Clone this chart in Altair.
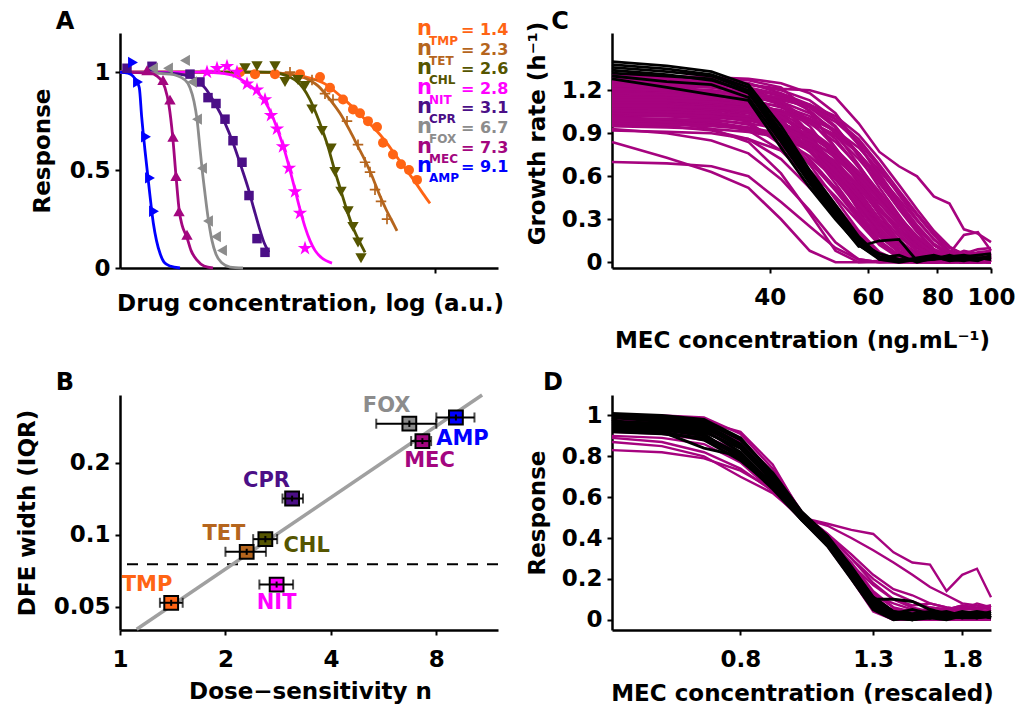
import altair as alt
import pandas as pd

FONT = "DejaVu Sans"

# ---------------- shared drug info ----------------
drugs = ["TMP", "TET", "CHL", "NIT", "CPR", "FOX", "MEC", "AMP"]
n_values = [1.4, 2.3, 2.6, 2.8, 3.1, 6.7, 7.3, 9.1]
drug_colors = ["#FF6414", "#B5651D", "#555500", "#FF00FF", "#4B0F87", "#8C8C8C", "#A3067F", "#0000FF"]

STAR = "M0,-1L0.2245,-0.309L0.951,-0.309L0.363,0.118L0.588,0.809L0,0.382L-0.588,0.809L-0.363,0.118L-0.951,-0.309L-0.2245,-0.309Z"
PLUS = "M-1,-0.16H1V0.16H-1Z M-0.16,-1H0.16V1H-0.16Z"
marker_shapes = ["circle", PLUS, "triangle-down", STAR, "square", "triangle-left", "triangle-up", "triangle-right"]
marker_sizes = [100, 110, 130, 230, 90, 130, 130, 130]

# ---------------- panel A: dose-response (x in arbitrary log units) ----------------
marker_x = {
    "TMP": [12.0, 13.5, 15.5, 18.0, 20.0, 21.0, 22.3, 23.3, 24.0, 24.8, 25.7, 26.3, 27.3, 28.1, 28.9, 29.7],
    "TET": [17.0, 19.2, 20.5, 21.3, 22.7, 23.8, 24.5, 25.0, 25.5, 26.1, 26.7],
    "CHL": [12.5, 13.7, 15.5, 16.5, 17.8, 18.5, 19.2, 20.2, 21.1, 21.5, 22.1, 22.8, 23.3, 23.8, 24.1],
    "NIT": [8.7, 9.7, 10.7, 11.7, 12.7, 13.7, 14.5, 15.1, 15.7, 16.3, 16.9, 17.5, 18.0, 18.5],
    "CPR": [0.7, 3.2, 7.0, 8.0, 8.8, 9.6, 10.5, 11.3, 12.2, 12.9, 13.7, 14.5],
    "FOX": [3.3, 4.8, 6.5, 7.2, 7.7, 8.2, 8.8, 9.6, 10.2],
    "MEC": [2.7, 4.3, 5.0, 5.3, 5.6, 5.9, 6.7],
    "AMP": [1.3, 1.8, 2.6, 3.0, 3.4],
}
marker_y = {
    "TMP": [1.0, 0.99, 0.99, 0.99, 0.975, 0.92, 0.86, 0.81, 0.79, 0.75, 0.72, 0.64, 0.58, 0.53, 0.50, 0.45],
    "TET": [1.0, 0.96, 0.89, 0.86, 0.75, 0.63, 0.54, 0.49, 0.40, 0.34, 0.25],
    "CHL": [1.02, 1.03, 1.03, 0.95, 0.96, 0.93, 0.81, 0.70, 0.61, 0.49, 0.39, 0.29, 0.21, 0.13, 0.05],
    "NIT": [1.0, 1.02, 1.03, 1.0, 0.94, 0.91, 0.86, 0.78, 0.71, 0.62, 0.51, 0.39, 0.28, 0.10],
    "CPR": [1.02, 1.03, 0.99, 0.95, 0.87, 0.84, 0.76, 0.65, 0.54, 0.37, 0.15, 0.08],
    "FOX": [1.02, 1.02, 1.06, 0.95, 0.76, 0.51, 0.24, 0.16, 0.09],
    "MEC": [1.01, 0.96, 0.86, 0.67, 0.47, 0.29, 0.17],
    "AMP": [1.05, 0.95, 0.67, 0.46, 0.29],
}
curve_x = {
    "TMP": [0, 13.0, 17.0, 19.0, 20.5, 22.0, 23.5, 24.5, 25.5, 26.5, 27.5, 28.5, 29.5, 30.3, 31.0],
    "TET": [0, 14.0, 17.0, 18.5, 19.8, 21.0, 22.0, 23.0, 23.8, 24.5, 25.2, 25.9, 26.6, 27.2, 27.7],
    "CHL": [0, 15.0, 16.5, 17.5, 18.3, 19.0, 19.6, 20.2, 20.8, 21.4, 22.0, 22.6, 23.2, 23.8, 24.5],
    "NIT": [0, 8.0, 10.0, 11.5, 12.5, 13.5, 14.5, 15.2, 15.8, 16.4, 17.0, 17.5, 18.0, 18.5, 19.0, 19.5, 20.1, 21.2],
    "CPR": [0, 5.0, 6.5, 7.5, 8.5, 9.5, 10.5, 11.3, 12.1, 12.8, 13.4, 13.9, 14.4, 14.9],
    "FOX": [0, 5.0, 6.5, 7.0, 7.4, 7.7, 8.0, 8.2, 8.5, 8.8, 9.2, 9.6, 10.2, 11.0, 12.3],
    "MEC": [0, 3.0, 3.7, 4.1, 4.5, 4.9, 5.27, 5.6, 5.93, 6.2, 6.67, 7.1, 7.7, 8.4, 9.3],
    "AMP": [0, 0.8, 1.3, 1.7, 1.93, 2.17, 2.5, 2.93, 3.33, 3.65, 4.0, 4.4, 5.0, 6.0],
}
curve_y = {
    "TMP": [1.0, 1.0, 0.99, 0.97, 0.94, 0.88, 0.81, 0.76, 0.71, 0.65, 0.58, 0.51, 0.44, 0.38, 0.33],
    "TET": [1.0, 1.0, 0.99, 0.97, 0.93, 0.86, 0.79, 0.70, 0.62, 0.55, 0.47, 0.38, 0.30, 0.24, 0.19],
    "CHL": [1.0, 1.0, 0.985, 0.96, 0.92, 0.86, 0.79, 0.71, 0.62, 0.51, 0.41, 0.31, 0.22, 0.15, 0.08],
    "NIT": [1.0, 1.0, 0.995, 0.98, 0.95, 0.91, 0.85, 0.78, 0.70, 0.61, 0.50, 0.40, 0.30, 0.21, 0.14, 0.09, 0.055, 0.025],
    "CPR": [1.0, 0.995, 0.985, 0.965, 0.92, 0.84, 0.74, 0.64, 0.52, 0.41, 0.30, 0.21, 0.13, 0.08],
    "FOX": [1.0, 0.99, 0.96, 0.92, 0.85, 0.76, 0.61, 0.51, 0.38, 0.26, 0.14, 0.07, 0.025, 0.005, 0.0],
    "MEC": [1.0, 0.995, 0.98, 0.96, 0.92, 0.83, 0.67, 0.47, 0.29, 0.22, 0.16, 0.09, 0.04, 0.01, 0.0],
    "AMP": [1.0, 0.995, 0.98, 0.95, 0.92, 0.77, 0.60, 0.40, 0.23, 0.14, 0.075, 0.03, 0.01, 0.0],
}

# ---------------- panel B: DFE width vs dose sensitivity ----------------
b_iqr = [0.052, 0.085, 0.096, 0.062, 0.142, 0.292, 0.247, 0.31]
b_n_lo = [1.3, 2.0, 2.4, 2.5, 2.91, 5.39, 6.78, 8.0]
b_n_hi = [1.51, 2.61, 2.81, 3.12, 3.33, 8.0, 7.73, 10.28]
b_iqr_lo = [0.0505, 0.0825, 0.093, 0.0602, 0.138, 0.283, 0.240, 0.301]
b_iqr_hi = [0.0535, 0.0875, 0.099, 0.0638, 0.146, 0.301, 0.254, 0.319]
fit_n = [1.116, 10.81]
fit_iqr = [0.0403, 0.385]
threshold_iqr = [0.0754]

# ---------------- panel C: growth rate vs MEC concentration ----------------
c_conc = [20.8, 26.1, 31.4, 36.6, 41.9, 47.2, 52.5, 57.8, 63.0, 68.3, 73.6, 78.9, 84.2, 89.4, 94.7, 100.0]
c_black = [
    [1.40, 1.37, 1.33, 1.24, 0.95, 0.64, 0.40, 0.18, 0.04, 0.02, 0.01, 0.03, 0.02, 0.03, 0.02, 0.03],
    [1.36, 1.33, 1.30, 1.20, 0.90, 0.60, 0.36, 0.15, 0.02, 0.00, 0.02, 0.04, 0.01, 0.02, 0.03, 0.04],
    [1.32, 1.30, 1.28, 1.18, 0.88, 0.58, 0.33, 0.12, 0.02, 0.01, 0.02, 0.02, 0.05, 0.02, 0.01, 0.05],
    [1.30, 1.26, 1.24, 1.15, 0.84, 0.55, 0.31, 0.11, 0.15, 0.16, 0.01, 0.03, 0.04, 0.05, 0.03, 0.02],
    [1.28, 1.22, 1.17, 1.13, 0.80, 0.52, 0.30, 0.12, 0.03, 0.05, 0.00, 0.03, 0.02, 0.04, 0.05, 0.06],
    [1.38, 1.35, 1.31, 1.22, 0.92, 0.62, 0.38, 0.17, 0.03, 0.01, 0.03, 0.05, 0.02, 0.01, 0.03, 0.02],
    [1.34, 1.31, 1.27, 1.19, 0.86, 0.57, 0.35, 0.14, 0.06, 0.02, 0.01, 0.02, 0.03, 0.04, 0.02, 0.03],
]
c_magenta = [
    [1.22, 1.22, 1.23, 1.24, 1.21, 1.20, 1.15, 0.97, 0.77, 0.67, 0.60, 0.46, 0.41, 0.23, 0.20, 0.14],
    [0.70, 0.69, 0.67, 0.60, 0.42, 0.25, 0.10, 0.02, 0.00, 0.00, 0.01, 0.00, 0.00, 0.00, 0.01, 0.00],
    [0.84, 0.73, 0.63, 0.52, 0.30, 0.08, 0.00, 0.00, 0.01, 0.00, 0.00, 0.00, 0.01, 0.00, 0.00, 0.00],
    [1.30, 1.29, 1.28, 1.27, 1.22, 1.05, 0.80, 0.55, 0.33, 0.15, 0.04, 0.01, 0.00, 0.02, 0.01, 0.03],
    [1.28, 1.27, 1.27, 1.25, 1.18, 1.10, 0.95, 0.74, 0.52, 0.33, 0.16, 0.05, 0.03, 0.02, 0.04, 0.05],
    [1.25, 1.24, 1.22, 1.18, 1.00, 0.78, 0.55, 0.33, 0.14, 0.04, 0.01, 0.00, 0.02, 0.01, 0.00, 0.02],
    [1.22, 1.21, 1.20, 1.17, 1.10, 0.95, 0.72, 0.50, 0.30, 0.14, 0.05, 0.02, 0.01, 0.03, 0.02, 0.04],
    [1.20, 1.19, 1.17, 1.12, 0.92, 0.68, 0.44, 0.22, 0.07, 0.01, 0.00, 0.02, 0.01, 0.00, 0.01, 0.03],
    [1.18, 1.18, 1.16, 1.14, 1.08, 1.00, 0.86, 0.66, 0.45, 0.28, 0.14, 0.06, 0.04, 0.08, 0.06, 0.05],
    [1.16, 1.15, 1.13, 1.08, 0.96, 0.78, 0.58, 0.38, 0.20, 0.07, 0.02, 0.01, 0.00, 0.02, 0.01, 0.02],
    [1.15, 1.14, 1.12, 1.10, 1.04, 0.92, 0.75, 0.56, 0.38, 0.22, 0.10, 0.03, 0.05, 0.04, 0.03, 0.05],
    [1.13, 1.12, 1.10, 1.05, 0.88, 0.64, 0.40, 0.20, 0.06, 0.01, 0.00, 0.00, 0.01, 0.00, 0.02, 0.01],
    [1.12, 1.12, 1.11, 1.09, 1.06, 0.98, 0.88, 0.72, 0.55, 0.38, 0.24, 0.12, 0.06, 0.04, 0.07, 0.08],
    [1.10, 1.09, 1.07, 1.02, 0.90, 0.72, 0.52, 0.32, 0.15, 0.05, 0.01, 0.02, 0.00, 0.01, 0.00, 0.01],
    [1.08, 1.08, 1.06, 1.04, 0.98, 0.86, 0.68, 0.48, 0.30, 0.15, 0.06, 0.02, 0.04, 0.03, 0.02, 0.04],
    [1.06, 1.05, 1.03, 0.98, 0.82, 0.60, 0.38, 0.18, 0.05, 0.00, 0.01, 0.00, 0.00, 0.01, 0.00, 0.00],
    [1.05, 1.04, 1.03, 1.01, 0.96, 0.88, 0.76, 0.60, 0.44, 0.29, 0.17, 0.08, 0.05, 0.04, 0.06, 0.05],
    [1.03, 1.02, 1.00, 0.96, 0.86, 0.70, 0.50, 0.30, 0.14, 0.04, 0.01, 0.00, 0.01, 0.00, 0.01, 0.02],
    [1.02, 1.02, 1.01, 0.99, 0.94, 0.84, 0.70, 0.52, 0.34, 0.18, 0.08, 0.03, 0.02, 0.05, 0.03, 0.02],
    [1.00, 0.99, 0.97, 0.92, 0.78, 0.58, 0.36, 0.17, 0.04, 0.00, 0.00, 0.01, 0.00, 0.00, 0.01, 0.00],
    [0.98, 0.97, 0.96, 0.94, 0.90, 0.82, 0.70, 0.54, 0.38, 0.24, 0.12, 0.05, 0.03, 0.02, 0.04, 0.06],
    [0.96, 0.95, 0.92, 0.86, 0.72, 0.52, 0.32, 0.14, 0.03, 0.00, 0.00, 0.00, 0.01, 0.00, 0.00, 0.01],
    [0.95, 0.94, 0.93, 0.91, 0.87, 0.78, 0.64, 0.46, 0.28, 0.13, 0.04, 0.02, 0.01, 0.02, 0.01, 0.03],
    [1.27, 1.26, 1.25, 1.22, 1.12, 0.90, 0.62, 0.36, 0.15, 0.03, 0.00, 0.01, 0.00, 0.02, 0.01, 0.00],
    [1.24, 1.23, 1.23, 1.21, 1.16, 1.06, 0.90, 0.68, 0.47, 0.28, 0.12, 0.04, 0.06, 0.19, 0.21, 0.08],
    [1.19, 1.18, 1.17, 1.15, 1.12, 1.04, 0.92, 0.76, 0.58, 0.40, 0.25, 0.12, 0.05, 0.03, 0.05, 0.07],
    [1.14, 1.13, 1.11, 1.07, 0.98, 0.83, 0.64, 0.44, 0.26, 0.12, 0.04, 0.01, 0.00, 0.01, 0.02, 0.01],
    [1.09, 1.08, 1.07, 1.05, 1.00, 0.91, 0.78, 0.62, 0.46, 0.31, 0.18, 0.09, 0.04, 0.03, 0.02, 0.04],
    [1.31, 1.30, 1.29, 1.28, 1.25, 1.18, 1.04, 0.82, 0.60, 0.40, 0.22, 0.09, 0.03, 0.02, 0.03, 0.02],
    [0.92, 0.91, 0.90, 0.86, 0.78, 0.64, 0.46, 0.28, 0.12, 0.03, 0.00, 0.00, 0.01, 0.00, 0.00, 0.00],
    [1.21, 1.20, 1.18, 1.14, 1.03, 0.84, 0.60, 0.38, 0.19, 0.07, 0.02, 0.00, 0.01, 0.00, 0.01, 0.02],
    [1.17, 1.16, 1.16, 1.15, 1.13, 1.09, 1.00, 0.86, 0.68, 0.50, 0.34, 0.20, 0.10, 0.06, 0.09, 0.10],
    [1.07, 1.06, 1.04, 1.00, 0.92, 0.77, 0.58, 0.40, 0.22, 0.10, 0.03, 0.01, 0.02, 0.00, 0.01, 0.00],
    [1.11, 1.10, 1.09, 1.08, 1.05, 1.00, 0.92, 0.80, 0.64, 0.48, 0.33, 0.19, 0.08, 0.05, 0.04, 0.06],
    [0.99, 0.98, 0.96, 0.93, 0.86, 0.74, 0.58, 0.42, 0.26, 0.14, 0.06, 0.02, 0.01, 0.00, 0.01, 0.01],
    [1.02, 0.98, 0.93, 0.84, 0.62, 0.34, 0.08, 0.00, 0.00, 0.01, 0.00, 0.00, 0.00, 0.00, 0.00, 0.00],
    [0.93, 0.90, 0.85, 0.76, 0.58, 0.36, 0.14, 0.02, 0.00, 0.00, 0.01, 0.00, 0.00, 0.00, 0.00, 0.01],
    [1.29, 1.28, 1.26, 1.22, 1.10, 0.88, 0.64, 0.42, 0.22, 0.08, 0.02, 0.00, 0.01, 0.00, 0.02, 0.01],
    [1.26, 1.25, 1.24, 1.22, 1.17, 1.08, 0.94, 0.76, 0.56, 0.37, 0.21, 0.09, 0.04, 0.03, 0.02, 0.03],
    [1.23, 1.22, 1.20, 1.15, 1.04, 0.86, 0.66, 0.46, 0.28, 0.13, 0.04, 0.01, 0.00, 0.01, 0.00, 0.02],
    [1.20, 1.20, 1.19, 1.17, 1.14, 1.08, 0.98, 0.84, 0.66, 0.47, 0.30, 0.16, 0.07, 0.05, 0.06, 0.04],
    [1.17, 1.16, 1.14, 1.09, 0.99, 0.82, 0.62, 0.42, 0.24, 0.10, 0.03, 0.00, 0.01, 0.00, 0.01, 0.00],
    [1.15, 1.15, 1.14, 1.12, 1.09, 1.02, 0.91, 0.76, 0.58, 0.40, 0.25, 0.12, 0.05, 0.04, 0.03, 0.05],
    [1.12, 1.11, 1.09, 1.04, 0.94, 0.79, 0.60, 0.41, 0.23, 0.10, 0.03, 0.01, 0.00, 0.02, 0.01, 0.00],
    [1.10, 1.10, 1.08, 1.06, 1.01, 0.92, 0.79, 0.63, 0.46, 0.30, 0.16, 0.07, 0.03, 0.04, 0.03, 0.02],
    [1.07, 1.07, 1.05, 1.01, 0.94, 0.81, 0.64, 0.46, 0.29, 0.15, 0.06, 0.02, 0.01, 0.00, 0.01, 0.02],
    [1.04, 1.03, 1.02, 1.00, 0.95, 0.86, 0.73, 0.57, 0.41, 0.26, 0.14, 0.06, 0.03, 0.02, 0.04, 0.03],
    [1.01, 1.00, 0.98, 0.94, 0.85, 0.70, 0.52, 0.34, 0.18, 0.07, 0.01, 0.00, 0.01, 0.00, 0.00, 0.01],
    [0.97, 0.96, 0.95, 0.93, 0.88, 0.80, 0.68, 0.52, 0.36, 0.22, 0.11, 0.04, 0.02, 0.03, 0.02, 0.04],
    [1.24, 1.24, 1.22, 1.19, 1.12, 0.99, 0.80, 0.59, 0.38, 0.20, 0.08, 0.02, 0.01, 0.00, 0.01, 0.02],
    [1.18, 1.17, 1.15, 1.11, 1.02, 0.87, 0.68, 0.48, 0.30, 0.15, 0.05, 0.01, 0.02, 0.01, 0.00, 0.01],
    [1.13, 1.13, 1.12, 1.10, 1.06, 0.97, 0.84, 0.67, 0.49, 0.32, 0.18, 0.08, 0.03, 0.02, 0.03, 0.04],
    [1.06, 1.05, 1.04, 1.02, 0.97, 0.89, 0.77, 0.62, 0.46, 0.31, 0.18, 0.09, 0.05, 0.06, 0.04, 0.03],
    [1.00, 1.00, 0.99, 0.97, 0.93, 0.85, 0.74, 0.59, 0.43, 0.28, 0.15, 0.06, 0.02, 0.01, 0.02, 0.03],
    [1.27, 1.27, 1.26, 1.24, 1.20, 1.13, 1.00, 0.82, 0.62, 0.42, 0.26, 0.13, 0.06, 0.03, 0.05, 0.04],
    [1.21, 1.20, 1.19, 1.18, 1.15, 1.10, 1.02, 0.89, 0.72, 0.54, 0.37, 0.22, 0.11, 0.05, 0.04, 0.06],
    [1.09, 1.09, 1.08, 1.07, 1.04, 0.98, 0.89, 0.76, 0.60, 0.44, 0.29, 0.16, 0.07, 0.04, 0.05, 0.07],
]

# ---------------- panel D: normalised response vs rescaled concentration ----------------
d_conc = [0.5, 0.6, 0.7, 0.8, 0.9, 1.0, 1.1, 1.2, 1.3, 1.4, 1.5, 1.6, 1.7, 1.8, 1.9, 2.0]
d_black = [
    [0.99, 0.98, 0.96, 0.86, 0.70, 0.52, 0.40, 0.25, 0.10, 0.03, 0.01, 0.02, 0.03, 0.02, 0.01, 0.02],
    [0.97, 0.96, 0.93, 0.82, 0.66, 0.50, 0.37, 0.22, 0.07, 0.01, 0.00, 0.02, 0.01, 0.03, 0.02, 0.02],
    [0.95, 0.94, 0.91, 0.79, 0.64, 0.49, 0.36, 0.20, 0.05, 0.00, 0.01, 0.01, 0.02, 0.01, 0.03, 0.01],
    [0.93, 0.92, 0.88, 0.78, 0.65, 0.50, 0.38, 0.24, 0.10, 0.10, 0.09, 0.05, 0.03, 0.02, 0.02, 0.01],
    [0.98, 0.92, 0.84, 0.80, 0.67, 0.51, 0.39, 0.23, 0.08, 0.02, 0.02, 0.03, 0.02, 0.04, 0.03, 0.02],
    [1.00, 0.99, 0.97, 0.88, 0.72, 0.53, 0.41, 0.26, 0.11, 0.04, 0.02, 0.01, 0.02, 0.01, 0.02, 0.03],
    [0.96, 0.95, 0.92, 0.84, 0.68, 0.50, 0.38, 0.23, 0.09, 0.02, 0.00, 0.01, 0.00, 0.02, 0.01, 0.03],
    [1.01, 1.00, 0.98, 0.89, 0.71, 0.52, 0.40, 0.24, 0.09, 0.02, 0.01, 0.01, 0.02, 0.01, 0.01, 0.02],
    [0.99, 0.97, 0.95, 0.85, 0.69, 0.51, 0.39, 0.24, 0.08, 0.01, 0.00, 0.02, 0.01, 0.02, 0.03, 0.01],
    [0.94, 0.93, 0.90, 0.81, 0.66, 0.49, 0.37, 0.21, 0.06, 0.01, 0.02, 0.01, 0.03, 0.02, 0.02, 0.04],
    [0.97, 0.96, 0.94, 0.85, 0.69, 0.51, 0.40, 0.25, 0.11, 0.04, 0.03, 0.04, 0.02, 0.03, 0.04, 0.03],
    [0.92, 0.91, 0.89, 0.80, 0.65, 0.50, 0.38, 0.23, 0.08, 0.03, 0.05, 0.03, 0.04, 0.02, 0.01, 0.02],
]
d_magenta = [
    [0.98, 0.97, 0.95, 0.88, 0.72, 0.50, 0.47, 0.44, 0.42, 0.33, 0.28, 0.27, 0.14, 0.22, 0.25, 0.11],
    [0.97, 0.96, 0.94, 0.86, 0.70, 0.50, 0.46, 0.40, 0.34, 0.28, 0.22, 0.16, 0.12, 0.08, 0.07, 0.06],
    [0.83, 0.82, 0.79, 0.73, 0.64, 0.52, 0.42, 0.30, 0.18, 0.10, 0.06, 0.04, 0.05, 0.04, 0.03, 0.05],
    [0.87, 0.85, 0.80, 0.70, 0.62, 0.50, 0.40, 0.28, 0.14, 0.06, 0.02, 0.01, 0.02, 0.01, 0.02, 0.01],
    [0.89, 0.87, 0.82, 0.74, 0.63, 0.51, 0.39, 0.26, 0.12, 0.04, 0.01, 0.00, 0.01, 0.00, 0.01, 0.02],
    [0.90, 0.89, 0.86, 0.77, 0.63, 0.49, 0.36, 0.20, 0.04, 0.00, 0.00, 0.01, 0.00, 0.01, 0.00, 0.00],
    [1.00, 1.00, 0.99, 0.91, 0.74, 0.53, 0.40, 0.24, 0.08, 0.01, 0.00, 0.00, 0.01, 0.00, 0.00, 0.01],
    [0.99, 0.99, 0.97, 0.92, 0.76, 0.52, 0.38, 0.20, 0.05, 0.00, 0.00, 0.01, 0.00, 0.00, 0.01, 0.00],
    [0.96, 0.95, 0.93, 0.85, 0.68, 0.50, 0.41, 0.30, 0.20, 0.13, 0.09, 0.06, 0.05, 0.07, 0.06, 0.07],
    [0.94, 0.93, 0.90, 0.82, 0.66, 0.49, 0.37, 0.27, 0.17, 0.10, 0.07, 0.08, 0.06, 0.05, 0.08, 0.06],
    [0.98, 0.97, 0.95, 0.87, 0.70, 0.51, 0.39, 0.23, 0.07, 0.02, 0.04, 0.03, 0.05, 0.03, 0.04, 0.05],
    [0.92, 0.91, 0.88, 0.80, 0.66, 0.50, 0.38, 0.25, 0.12, 0.08, 0.05, 0.04, 0.04, 0.06, 0.05, 0.04],
    [1.00, 0.99, 0.96, 0.89, 0.72, 0.50, 0.37, 0.21, 0.06, 0.00, 0.01, 0.00, 0.00, 0.01, 0.00, 0.00],
    [0.95, 0.94, 0.92, 0.84, 0.69, 0.52, 0.42, 0.32, 0.22, 0.15, 0.12, 0.08, 0.06, 0.05, 0.05, 0.06],
    [0.97, 0.97, 0.95, 0.86, 0.70, 0.50, 0.38, 0.22, 0.08, 0.05, 0.03, 0.06, 0.05, 0.07, 0.05, 0.07],
    [0.93, 0.92, 0.89, 0.81, 0.67, 0.50, 0.39, 0.26, 0.13, 0.06, 0.04, 0.02, 0.03, 0.01, 0.02, 0.03],
]

MAG = "#A6037F"
BIG = 23
W, H = 378, 235

# ---------------- helpers ----------------
def long_lines(xs, rows, prefix):
    recs = []
    for i, row in enumerate(rows):
        for x, y in zip(xs, row):
            recs.append({"line": f"{prefix}{i}", "x": x, "y": y})
    return pd.DataFrame(recs)


def pixel_text(text, px, py, size, color="black", align="left", baseline="alphabetic"):
    return alt.Chart(pd.DataFrame({"t": [text]})).mark_text(
        font=FONT, fontSize=size, fontWeight="bold", color=color, baseline=baseline, align=align
    ).encode(text="t:N", x=alt.value(px), y=alt.value(py))


def panel_letter(letter, px, py):
    return pixel_text(letter, px, py, 24, align="center", baseline="middle")


color_scale = alt.Scale(domain=drugs, range=drug_colors)

# ---------------- Panel A ----------------
xA = alt.Scale(domain=[0, 37.8], nice=False, zero=False)
yA = alt.Scale(domain=[0, 1.2], nice=False, zero=False)
axAx = alt.Axis(values=[31.5], labels=False, title="Drug concentration, log (a.u.)",
                titleX=190, titleY=42, titleBaseline="alphabetic", titleAlign="center")
axAy = alt.Axis(values=[0, 0.5, 1], format=".2~f", title="Response", titleX=-71, titleY=117.5,
                titleAngle=270, titleAlign="center", titleBaseline="alphabetic")

curves_df = pd.DataFrame([{"drug": d, "x": x, "y": y} for d in drugs for x, y in zip(curve_x[d], curve_y[d])])
markers_df = pd.DataFrame([
    {"drug": d, "x": x, "y": y, "shape": marker_shapes[i], "sz": marker_sizes[i]}
    for i, d in enumerate(drugs) for x, y in zip(marker_x[d], marker_y[d])
])

a_lines = alt.Chart(curves_df).mark_line(strokeWidth=2.8, interpolate="monotone").encode(
    x=alt.X("x:Q", scale=xA, axis=axAx),
    y=alt.Y("y:Q", scale=yA, axis=axAy),
    color=alt.Color("drug:N", scale=color_scale, legend=None),
    detail="drug:N",
)
a_pts = alt.Chart(markers_df).mark_point(filled=True, opacity=1).encode(
    x=alt.X("x:Q", scale=xA, axis=axAx),
    y=alt.Y("y:Q", scale=yA, axis=axAy),
    color=alt.Color("drug:N", scale=color_scale, legend=None),
    shape=alt.Shape("shape:N", scale=None),
    size=alt.Size("sz:Q", scale=None),
)

# legend block: one row per drug, "n" + subscript + "= value" (pixel layout inside panel A)
legend_layers = []
for i, d in enumerate(drugs):
    base = 2 + 19.6 * i
    col = drug_colors[i]
    legend_layers.append(pixel_text("n", 297, base, 21, col))
    legend_layers.append(pixel_text(d, 309, base + 10, 12, col))
    legend_layers.append(pixel_text(f"= {n_values[i]}", 341, base, 16, col))

pA = alt.layer(a_lines, a_pts, *legend_layers, panel_letter("A", -55, -11)).properties(width=W, height=H)

# ---------------- Panel B ----------------
xB = alt.Scale(type="log", domain=[1, 12], nice=False)
yB = alt.Scale(type="log", domain=[0.04, 0.385], nice=False)
axBx = alt.Axis(values=[1, 2, 4, 8], format="d", title="Dose\u2212sensitivity n",
                titleX=190, titleY=68, titleBaseline="alphabetic", titleAlign="center")
axBy = alt.Axis(values=[0.05, 0.1, 0.2], format=".2~f", title="DFE width (IQR)", titleX=-86, titleY=117.5,
                titleAngle=270, titleAlign="center", titleBaseline="alphabetic")

b_df = pd.DataFrame({"drug": drugs, "n": n_values, "iqr": b_iqr, "lo": b_n_lo, "hi": b_n_hi,
                     "ylo": b_iqr_lo, "yhi": b_iqr_hi})
b_lab_df = pd.DataFrame({
    "drug": drugs,
    "lx": [1.194, 1.98, 3.41, 2.80, 2.62, 5.77, 7.65, 9.5],
    "ly": [0.0616, 0.1007, 0.0897, 0.0518, 0.168, 0.345, 0.203, 0.251],
})
fit_df = pd.DataFrame({"n": fit_n, "iqr": fit_iqr})
thr_df = pd.DataFrame({"iqr": threshold_iqr})

b_thr = alt.Chart(thr_df).mark_rule(color="black", strokeWidth=2, strokeDash=[11, 9]).encode(
    y=alt.Y("iqr:Q", scale=yB, axis=axBy))
b_fit = alt.Chart(fit_df).mark_line(color="#A0A0A0", strokeWidth=3.5).encode(
    x=alt.X("n:Q", scale=xB, axis=axBx), y=alt.Y("iqr:Q", scale=yB, axis=axBy))
b_sq = alt.Chart(b_df).mark_point(shape="square", filled=True, size=190, stroke="black",
                                   strokeWidth=2, opacity=1).encode(
    x=alt.X("n:Q", scale=xB, axis=axBx), y=alt.Y("iqr:Q", scale=yB, axis=axBy),
    fill=alt.Fill("drug:N", scale=color_scale, legend=None))
b_err = alt.Chart(b_df).mark_rule(color="black", strokeWidth=2).encode(
    x=alt.X("lo:Q", scale=xB, axis=axBx), x2="hi:Q", y=alt.Y("iqr:Q", scale=yB, axis=axBy))
b_yerr = alt.Chart(b_df).mark_rule(color="black", strokeWidth=2).encode(
    x=alt.X("n:Q", scale=xB, axis=axBx), y=alt.Y("ylo:Q", scale=yB, axis=axBy), y2="yhi:Q")
b_cap_lo = alt.Chart(b_df).mark_tick(color="black", thickness=2, size=10, orient="vertical").encode(
    x=alt.X("lo:Q", scale=xB, axis=axBx), y=alt.Y("iqr:Q", scale=yB, axis=axBy))
b_cap_hi = alt.Chart(b_df).mark_tick(color="black", thickness=2, size=10, orient="vertical").encode(
    x=alt.X("hi:Q", scale=xB, axis=axBx), y=alt.Y("iqr:Q", scale=yB, axis=axBy))
b_lab = alt.Chart(b_lab_df).mark_text(font=FONT, fontSize=21, fontWeight="bold", baseline="middle",
                                       align="center").encode(
    x=alt.X("lx:Q", scale=xB, axis=axBx), y=alt.Y("ly:Q", scale=yB, axis=axBy),
    text="drug:N", color=alt.Color("drug:N", scale=color_scale, legend=None))

pB = alt.layer(b_thr, b_fit, b_sq, b_err, b_yerr, b_cap_lo, b_cap_hi, b_lab,
               panel_letter("B", -55, -12)).properties(width=W, height=H)

# ---------------- Panel C ----------------
xC = alt.Scale(type="log", domain=[20.8, 100], nice=False)
yC = alt.Scale(domain=[-0.04, 1.6], nice=False, zero=False)
axCx = alt.Axis(values=[40, 60, 80, 100], format="d", title="MEC concentration (ng.mL\u207b\u00b9)",
                titleX=190, titleY=79, titleBaseline="alphabetic", titleAlign="center")
axCy = alt.Axis(values=[0, 0.3, 0.6, 0.9, 1.2], format=".1~f", title="Growth rate (h\u207b\u00b9)",
                titleX=-68, titleY=100, titleAngle=270, titleAlign="center", titleBaseline="alphabetic")

c_mag_df = long_lines(c_conc, c_magenta, "m")
c_blk_df = long_lines(c_conc, c_black, "b")
c_mag = alt.Chart(c_mag_df).mark_line(color=MAG, strokeWidth=2.6).encode(
    x=alt.X("x:Q", scale=xC, axis=axCx), y=alt.Y("y:Q", scale=yC, axis=axCy), detail="line:N")
c_blk = alt.Chart(c_blk_df).mark_line(color="black", strokeWidth=2.8).encode(
    x=alt.X("x:Q", scale=xC, axis=axCx), y=alt.Y("y:Q", scale=yC, axis=axCy), detail="line:N")
pC = alt.layer(c_mag, c_blk, panel_letter("C", -52, -11)).properties(width=W + 1, height=H)

# ---------------- Panel D ----------------
xD = alt.Scale(type="log", domain=[0.5, 2.0], nice=False)
yD = alt.Scale(domain=[-0.05, 1.1], nice=False, zero=False)
axDx = alt.Axis(values=[0.8, 1.3, 1.8], format=".1f", title="MEC concentration (rescaled)",
                titleX=190, titleY=70, titleBaseline="alphabetic", titleAlign="center")
axDy = alt.Axis(values=[0, 0.2, 0.4, 0.6, 0.8, 1.0], format=".1~f", title="Response",
                titleX=-68, titleY=117.5, titleAngle=270, titleAlign="center", titleBaseline="alphabetic")

d_mag_df = long_lines(d_conc, d_magenta, "m")
d_blk_df = long_lines(d_conc, d_black, "b")
d_mag = alt.Chart(d_mag_df).mark_line(color=MAG, strokeWidth=2.4).encode(
    x=alt.X("x:Q", scale=xD, axis=axDx), y=alt.Y("y:Q", scale=yD, axis=axDy), detail="line:N")
d_blk = alt.Chart(d_blk_df).mark_line(color="black", strokeWidth=3).encode(
    x=alt.X("x:Q", scale=xD, axis=axDx), y=alt.Y("y:Q", scale=yD, axis=axDy), detail="line:N")
pD = alt.layer(d_mag, d_blk, panel_letter("D", -59, -12)).properties(width=W + 1, height=H)

# ---------------- assemble ----------------
chart = alt.concat(
    pA, pC, pB, pD, columns=2, spacing={"row": 127, "column": 114}, bounds="flush"
).properties(
    padding={"left": 8, "top": 2, "right": 5, "bottom": 0}
).configure(font=FONT).configure_view(stroke=None).configure_axis(
    domainColor="black", domainWidth=2.5, tickColor="black", tickWidth=2, tickSize=5,
    labelFont=FONT, labelFontSize=BIG, labelFontWeight="bold", labelColor="black",
    titleFont=FONT, titleFontSize=BIG, titleFontWeight="bold", titleColor="black",
    grid=False, labelFlush=False, labelOverlap=False,
).configure_axisX(labelPadding=13).configure_axisY(labelPadding=5)

chart.save("out.html", embed_options={"renderer": "svg", "actions": False})
